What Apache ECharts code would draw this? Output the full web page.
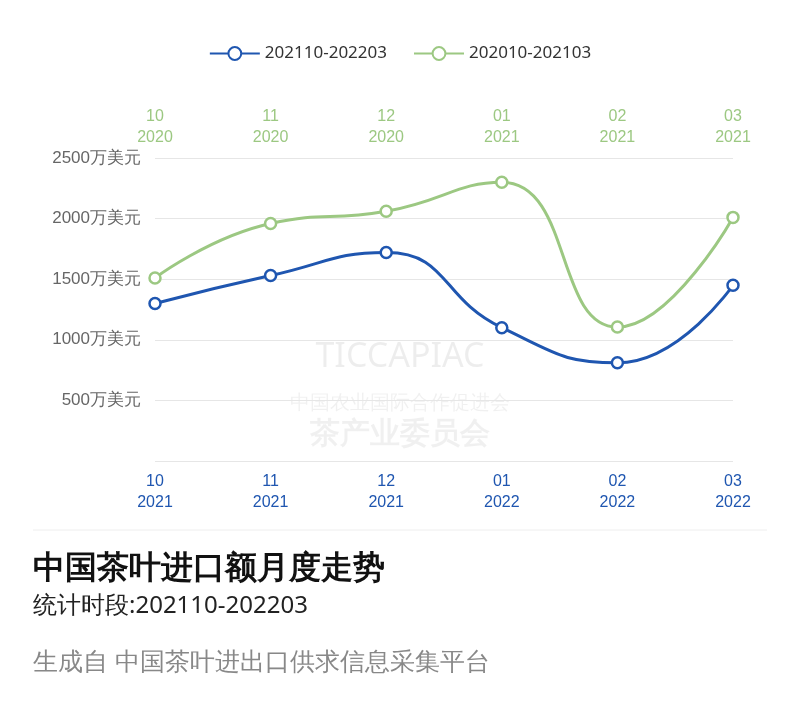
<!DOCTYPE html>
<html>
<head>
<meta charset="utf-8">
<script src="https://cdn.jsdelivr.net/npm/echarts@6/dist/echarts.min.js"></script>
<style>
body{margin:0;background:#fff;}
#main{width:800px;height:712px;}
</style>
</head>
<body>
<div id="main"></div>
<script>
var monthsNew = ['10\n2021', '11\n2021', '12\n2021', '01\n2022', '02\n2022', '03\n2022'];
var monthsOld = ['10\n2020', '11\n2020', '12\n2020', '01\n2021', '02\n2021', '03\n2021'];
var valuesNew = [1300, 1530, 1720, 1100, 810, 1450];
var valuesOld = [1510, 1960, 2060, 2300, 1105, 2010];
var blue = '#1f56b0', green = '#9cc882';

var chart = echarts.init(document.getElementById('main'));
chart.setOption({
    legend: {
        top: 40, left: 'center', itemGap: 26, itemWidth: 50, itemHeight: 16,
        textStyle: {fontSize: 17, color: '#333', fontFamily: 'Noto Sans'},
        data: ['202110-202203', '202010-202103']
    },
    grid: {left: 155, right: 67, top: 158, bottom: 251},
    xAxis: [{
        type: 'category', data: monthsNew, boundaryGap: false, position: 'bottom',
        axisLine: {show: false}, axisTick: {show: false},
        axisLabel: {color: blue, fontSize: 16, lineHeight: 21, margin: 10}
    }, {
        type: 'category', data: monthsOld, boundaryGap: false, position: 'top',
        axisLine: {show: false}, axisTick: {show: false},
        axisLabel: {color: green, fontSize: 16, lineHeight: 21, margin: 10}
    }],
    yAxis: {
        type: 'value', min: 0, max: 2500, interval: 500,
        axisLabel: {
            color: '#666', fontSize: 17, margin: 14,
            formatter: function (v) { return v === 0 ? '' : v + '万美元'; }
        },
        splitLine: {lineStyle: {color: '#e6e6e6'}}
    },
    graphic: [
        {type: 'text', left: 'center', top: 340, style: {text: 'TICCAPIAC', fontSize: 34, fill: 'rgba(0,0,0,0.07)', fontFamily: 'Noto Sans'}},
        {type: 'text', left: 'center', top: 393, style: {text: '中国农业国际合作促进会', fontSize: 20, fill: 'rgba(0,0,0,0.06)'}},
        {type: 'text', left: 'center', top: 420, style: {text: '茶产业委员会', fontSize: 30, fontWeight: 'bold', fill: 'rgba(0,0,0,0.06)'}},
        {type: 'line', shape: {x1: 33, y1: 530, x2: 767, y2: 530}, style: {stroke: '#eeeeee', lineWidth: 1}},
        {type: 'text', left: 33, top: 553, style: {text: '中国茶叶进口额月度走势', fontSize: 32, fontWeight: 'bold', fill: '#111'}},
        {type: 'text', left: 33, top: 594, style: {text: '统计时段:202110-202203', fontSize: 24, fill: '#222', fontFamily: 'Noto Sans'}},
        {type: 'text', left: 33, top: 651, style: {text: '生成自 中国茶叶进出口供求信息采集平台', fontSize: 25, fill: '#888'}}
    ],
    series: [{
        name: '202110-202203', type: 'line', xAxisIndex: 0, smooth: true, data: valuesNew,
        symbol: 'circle', symbolSize: 11, color: blue,
        lineStyle: {width: 3, color: blue},
        itemStyle: {color: '#fff', borderColor: blue, borderWidth: 2.5}
    }, {
        name: '202010-202103', type: 'line', xAxisIndex: 1, smooth: true, data: valuesOld,
        symbol: 'circle', symbolSize: 11, color: green,
        lineStyle: {width: 3, color: green},
        itemStyle: {color: '#fff', borderColor: green, borderWidth: 2.5}
    }]
});
</script>
</body>
</html>
